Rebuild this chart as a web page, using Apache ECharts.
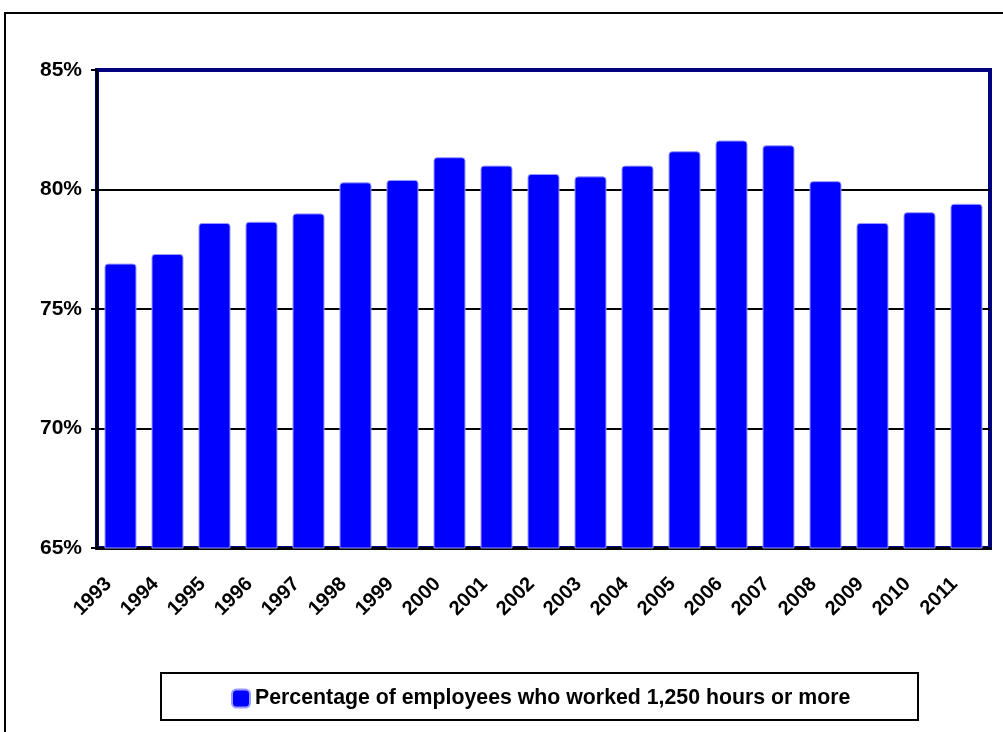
<!DOCTYPE html>
<html>
<head>
    <meta charset="utf-8">
    <title>ECharts</title>
    <script src="https://cdn.jsdelivr.net/npm/echarts@6/dist/echarts.min.js"></script>
    <style>
        html, body { margin: 0; padding: 0; background: #fff; }
    </style>
</head>
<body>
    <div id="main" style="width: 1003px;height:732px;"></div>
    <script type="text/javascript">
        // data
        var years = ['1993', '1994', '1995', '1996', '1997', '1998', '1999', '2000', '2001', '2002',
                     '2003', '2004', '2005', '2006', '2007', '2008', '2009', '2010', '2011'];
        var pctWorked = [76.9, 77.3, 78.6, 78.65, 79.0, 80.3, 80.4, 81.35, 81.0, 80.65,
                         80.55, 81.0, 81.6, 82.05, 81.85, 80.35, 78.6, 79.05, 79.4];
        var seriesName = 'Percentage of employees who worked 1,250 hours or more';

        var myChart = echarts.init(document.getElementById('main'));
        var font = 'Liberation Sans, Arial, sans-serif';

        myChart.setOption({
            animation: false,
            textStyle: { fontFamily: font },
            grid: {
                left: 97, right: 13, top: 70, bottom: 184,
                show: true,
                borderColor: '#000080',
                borderWidth: 4,
                backgroundColor: 'transparent'
            },
            // outer frame + legend box
            graphic: [
                {
                    type: 'rect',
                    shape: { x: 5, y: 13, width: 1010, height: 740 },
                    style: { fill: 'none', stroke: '#000', lineWidth: 2 },
                    silent: true, z: -1
                },
                {
                    type: 'rect',
                    shape: { x: 161, y: 673, width: 757, height: 47 },
                    style: { fill: '#fff', stroke: '#000', lineWidth: 2 },
                    silent: true, z: 0
                }
            ],
            legend: {
                data: [seriesName],
                left: 226,
                top: 683,
                itemWidth: 18,
                itemHeight: 18,
                z: 10,
                textStyle: { fontFamily: font, fontWeight: 'bold', fontSize: 21.3, color: '#000' }
            },
            xAxis: {
                type: 'category',
                data: years,
                axisLine: { lineStyle: { color: '#000', width: 3 } },
                axisTick: { show: false },
                axisLabel: {
                    rotate: 45,
                    interval: 0,
                    margin: 45,
                    verticalAlign: 'bottom',
                    padding: [0, 0, 7, 0],
                    fontFamily: font,
                    fontWeight: 'bold',
                    fontSize: 20,
                    color: '#000'
                }
            },
            yAxis: {
                type: 'value',
                min: 65,
                max: 85,
                interval: 5,
                axisLine: { show: true, lineStyle: { color: '#000', width: 2 } },
                axisTick: { show: true, length: 6, lineStyle: { color: '#000', width: 2 } },
                splitLine: { showMaxLine: false, lineStyle: { color: '#000', width: 2 } },
                axisLabel: {
                    formatter: '{value}%',
                    margin: 15,
                    fontFamily: font,
                    fontWeight: 'bold',
                    fontSize: 21,
                    color: '#000'
                }
            },
            series: [{
                name: seriesName,
                type: 'bar',
                data: pctWorked,
                barWidth: 32,
                itemStyle: {
                    color: '#0000ff',
                    borderColor: '#9a9aff',
                    borderWidth: 1,
                    borderRadius: [3, 3, 0, 0]
                }
            }]
        });
    </script>
</body>
</html>
